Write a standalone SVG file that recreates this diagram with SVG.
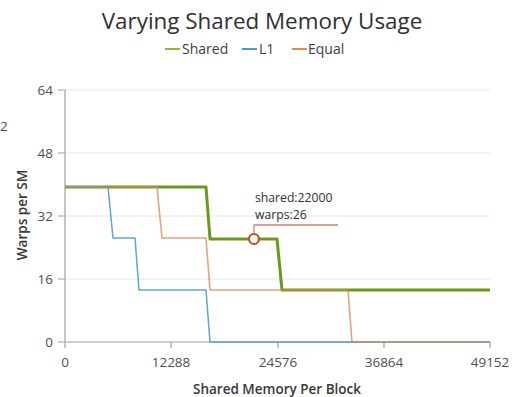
<svg xmlns="http://www.w3.org/2000/svg" width="518" height="397" viewBox="0 0 518 397">
<style>
text{font-family:"Open Sans","Noto Sans","Liberation Sans",sans-serif;fill:#404040}
.title{font-size:22.4px;fill:#303030}
.leg{font-size:14px}
.tick{font-size:13.5px;fill:#505050}
.axl{font-size:13.5px;font-weight:600;fill:#383838}
.tip{font-size:12.2px;fill:#303030}
.grid{stroke:#e6e6e6;stroke-width:1;fill:none}
.axis{stroke:#a0a0a0;stroke-width:1.2;fill:none}
.s{fill:none;stroke:#6b9a1a;stroke-width:3;stroke-linejoin:round}
.l{fill:none;stroke:#4a9dc9;stroke-width:1.5;opacity:0.9}
.e{fill:none;stroke:#d9845a;stroke-width:1.6;opacity:0.75}
</style>
<rect width="518" height="397" fill="#ffffff"/>
<g id="title"><text class="title" x="262" y="29" text-anchor="middle">Varying Shared Memory Usage</text></g>
<g id="legend">
<line x1="165" y1="49" x2="180" y2="49" stroke="#8cb83a" stroke-width="2"/>
<text class="leg" x="182" y="54">Shared</text>
<line x1="242" y1="49" x2="257" y2="49" stroke="#4a9dc9" stroke-width="2"/>
<text class="leg" x="259" y="54">L1</text>
<line x1="292" y1="49" x2="307" y2="49" stroke="#e08a5a" stroke-width="2"/>
<text class="leg" x="308" y="54">Equal</text>
</g>
<g id="frag"><text class="tick" x="0" y="131" font-size="14">2</text></g>
<g id="grid">
<line class="grid" x1="65" y1="90" x2="490" y2="90"/>
<line class="grid" x1="65" y1="153" x2="490" y2="153"/>
<line class="grid" x1="65" y1="216" x2="490" y2="216"/>
<line class="grid" x1="65" y1="279" x2="490" y2="279"/>
</g>
<g id="y-axis">
<path class="axis" d="M58 90H65V342M58 153H65M58 216H65M58 279H65M58 342H65"/>
<text class="tick" x="53" y="95" text-anchor="end">64</text>
<text class="tick" x="53" y="158" text-anchor="end">48</text>
<text class="tick" x="53" y="221" text-anchor="end">32</text>
<text class="tick" x="53" y="284" text-anchor="end">16</text>
<text class="tick" x="53" y="347" text-anchor="end">0</text>
<text class="axl" transform="translate(27 215) rotate(-90)" text-anchor="middle">Warps per SM</text>
</g>
<g id="x-axis">
<path class="axis" d="M65 342H490M65 342V348M171 342V348M278 342V348M384 342V348M490 342V348"/>
<text class="tick" x="65" y="367" text-anchor="middle">0</text>
<text class="tick" x="171" y="367" text-anchor="middle">12288</text>
<text class="tick" x="278" y="367" text-anchor="middle">24576</text>
<text class="tick" x="384" y="367" text-anchor="middle">36864</text>
<text class="tick" x="490" y="367" text-anchor="middle">49152</text>
<text class="axl" x="277" y="394" text-anchor="middle">Shared Memory Per Block</text>
</g>
<g id="connectors">
<polyline id="shared" class="s" points="65,187 206,187 210,239 277,239 282,290 490,290"/>
<polyline id="l1" class="l" points="65,187 108,187 113,238 135,238 139,290 206,290 210,342 490,342"/>
<polyline id="equal" class="e" points="65,187 157,187 162,238 206,238 210,290 348,290 352,342 490,342"/>
</g>
<g id="tooltip">
<polyline points="254,234 254,225 338,225" fill="none" stroke="#c08878" stroke-width="1.3"/>
<circle cx="254" cy="239" r="5" fill="#ffffff" stroke="#c0502a" stroke-width="2.2"/>
<text class="tip" x="255" y="202">shared:22000</text>
<text class="tip" x="255" y="219">warps:26</text>
</g>
</svg>
